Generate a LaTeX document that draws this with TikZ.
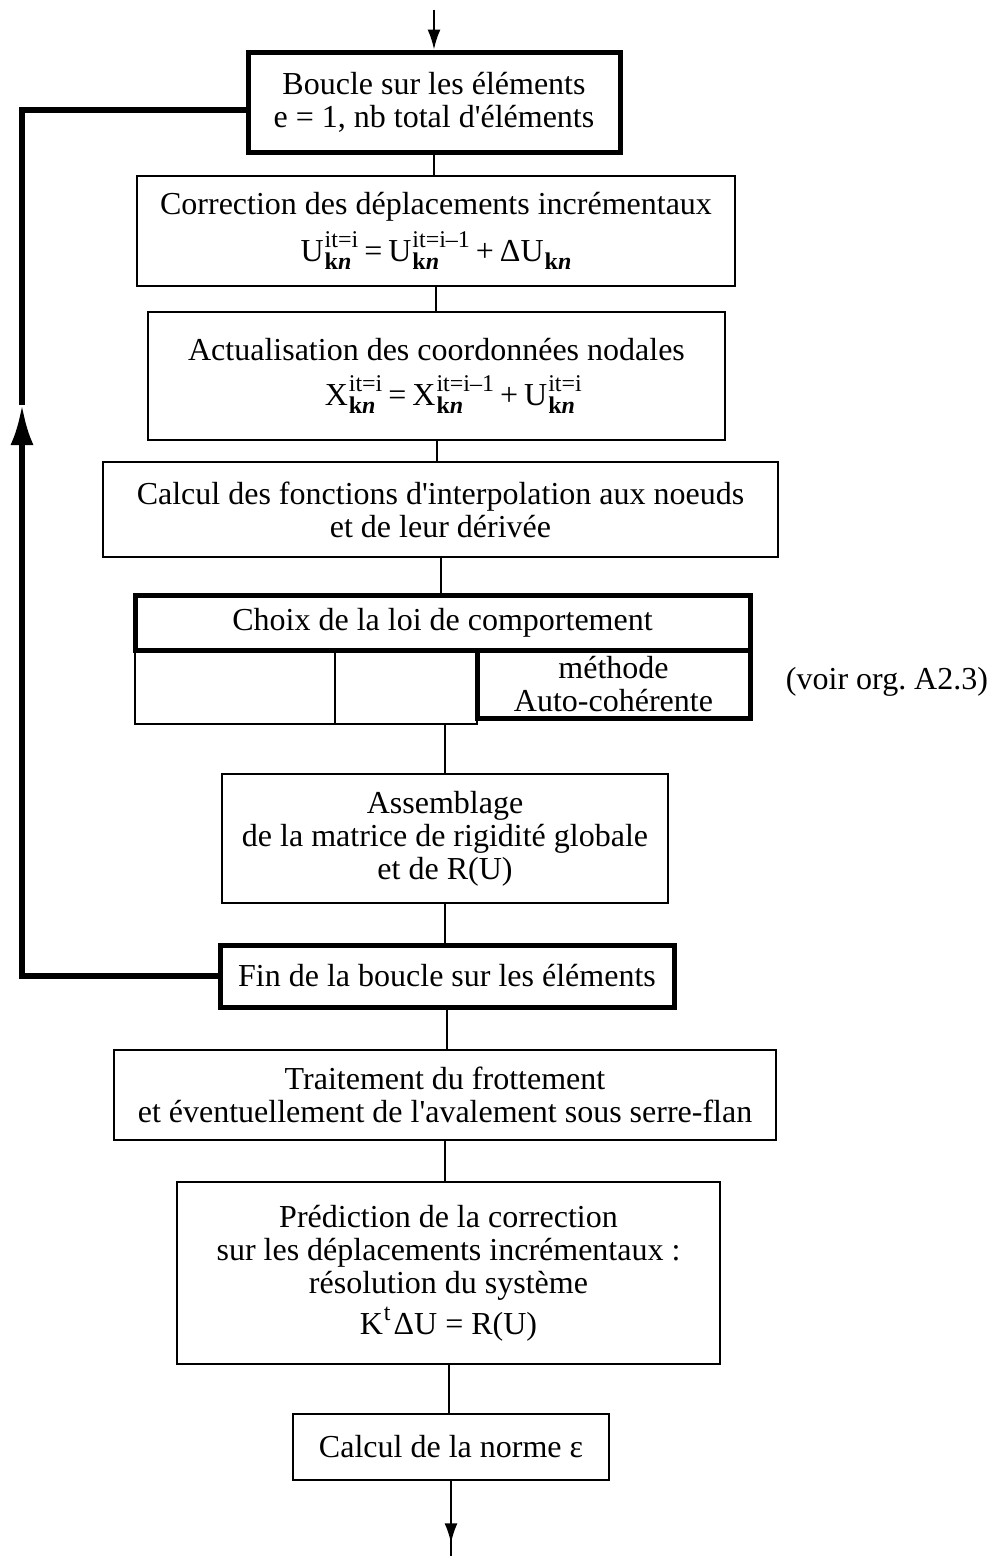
\documentclass[tikz,border=0pt]{standalone}
\usepackage{fontspec}
\setmainfont{Liberation Serif}
\usetikzlibrary{arrows.meta,calc}
\newcommand{\fs}{\fontsize{32}{33}\selectfont}
\newcommand{\scr}{\fontsize{24}{24}\selectfont}
\newcommand{\kn}{\textbf{k\textit{n}}}
\newcommand{\q}{\textquotesingle}
\newcommand{\supsub}[2]{%
  \setbox0=\hbox{\scr #1}\setbox2=\hbox{\scr #2}%
  \ifdim\wd0>\wd2 \dimen0=\wd0 \else \dimen0=\wd2 \fi
  \kern1pt\rlap{\raise14pt\box0}\rlap{\lower8pt\box2}\hskip\dimen0\relax}
\newcommand{\subonly}[1]{\kern1pt\lower8pt\hbox{\scr #1}}
\newcommand{\suponly}[1]{\kern1pt\raise14pt\hbox{\scr #1}\kern3pt}
\newcommand{\op}[1]{\kern6pt#1\kern6pt}
\tikzset{
  bx/.style={draw, line width=2.2pt, inner sep=0pt, align=center, font=\fs},
  tbx/.style={bx, line width=5pt},
  conn/.style={line width=2pt},
  loopline/.style={line width=5.5pt, line join=miter},
}
\begin{document}
\begin{tikzpicture}[x=1pt,y=-1pt]
\useasboundingbox (0,0) rectangle (1002,1556);

\node[tbx, minimum width=372pt, minimum height=100pt] (b1) at (434,102)
  {Boucle sur les éléments\\e = 1, nb total d\q éléments};
\node[bx, minimum width=598pt, minimum height=110pt] (b2) at (436,231)
  {Correction des déplacements incrémentaux\\[10pt]
   U\supsub{it=i}{\kn}\op{=}U\supsub{it=i\textendash 1}{\kn}\op{+}ΔU\subonly{\kn}};
\node[bx, minimum width=577pt, minimum height=128pt] (b3) at (436.5,376)
  {Actualisation des coordonnées nodales\\[12pt]
   X\supsub{it=i}{\kn}\op{=}X\supsub{it=i\textendash 1}{\kn}\op{+}U\supsub{it=i}{\kn}};
\node[bx, minimum width=675pt, minimum height=95pt] (b4) at (440.5,509.5)
  {Calcul des fonctions d\q interpolation aux noeuds\\et de leur dérivée};

\node[bx, minimum width=200pt, minimum height=74pt] (left) at (235,687) {};
\node[bx, minimum width=142pt, minimum height=74pt] (mid) at (406,687) {};
\node[tbx, minimum width=273pt, minimum height=68pt] (right) at (613.5,684)
  {méthode\\Auto-cohérente};
\node[tbx, minimum width=615pt, minimum height=55pt] (choix) at (442.5,622.5)
  {Choix de la loi de comportement};
\node[font=\fs, inner sep=0pt] (voir) at (887,682) {(voir org.\ A2.3)};

\node[bx, minimum width=446pt, minimum height=129pt] (b6) at (445,838.5)
  {Assemblage\\de la matrice de rigidité globale\\et de R(U)};
\node[tbx, minimum width=454pt, minimum height=62pt] (b7) at (447,976)
  {Fin de la boucle sur les éléments};
\node[bx, minimum width=662pt, minimum height=90pt] (b8) at (445,1095)
  {Traitement du frottement\\et éventuellement de l\q avalement sous serre-flan};
\node[bx, minimum width=543pt, minimum height=182pt] (b9) at (448.5,1273)
  {Prédiction de la correction\\sur les déplacements incrémentaux :\\résolution du système\\[6pt]
   K\suponly{t}ΔU = R(U)};
\node[bx, minimum width=316pt, minimum height=66pt] (b10) at (451,1447)
  {Calcul de la norme ε};

% connectors
\coordinate (top) at (434,10);
\draw[conn, -{Latex[length=20pt,width=13pt]}] (top) -- (b1.north);
\draw[conn] (b1.south) -- (b1.south |- b2.north);
\draw[conn] (b2.south) -- (b2.south |- b3.north);
\draw[conn] (b3.south) -- (b3.south |- b4.north);
\draw[conn] (b4.south) -- (b4.south |- choix.north);
\draw[conn] (b6.north |- mid.south) -- (b6.north);
\draw[conn] (b6.south) -- (b6.south |- b7.north);
\draw[conn] (b7.south) -- (b7.south |- b8.north);
\draw[conn] (b8.south) -- (b8.south |- b9.north);
\draw[conn] (b9.south) -- (b9.south |- b10.north);
\coordinate (bot) at (451,1556);
\draw[conn] (b10.south) -- (bot);
\draw[conn, -{Latex[length=20pt,width=13pt]}] (b10.south) -- ($(b10.south)!0.83!(bot)$);

% loop
\coordinate (lx) at (22,0);
\coordinate (ltip) at (22,405);
\coordinate (b1l) at ([yshift=-8pt]b1.west);
\draw[loopline, -{Latex[length=40pt,width=23pt]}] (b7.west) -- (b7.west -| lx) -- (ltip);
\draw[loopline] (ltip) -- (lx |- b1l) -- (b1l);
\end{tikzpicture}
\end{document}
